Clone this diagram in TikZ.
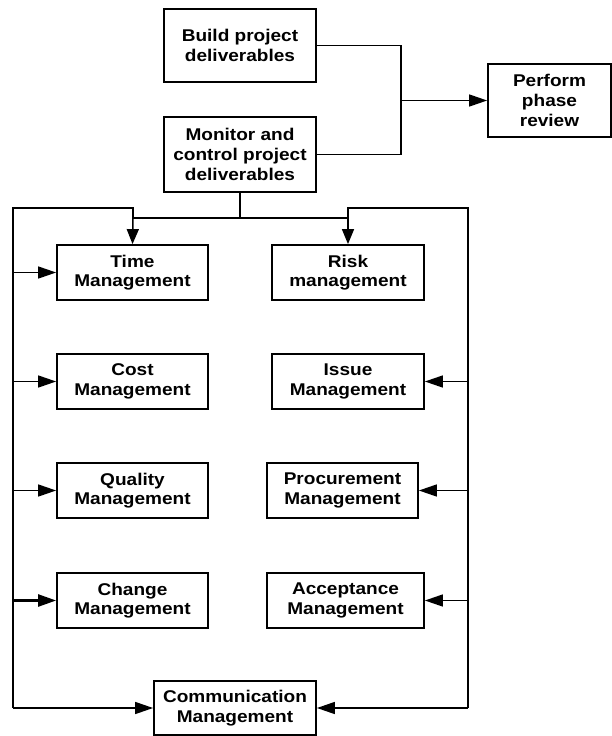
\documentclass[tikz,border=0pt]{standalone}
\usepackage{fontspec}
\setmainfont{Liberation Sans}[FakeStretch=1.12]
\usetikzlibrary{arrows.meta}
\begin{document}
\begin{tikzpicture}[x=1pt,y=-1pt,
  box/.style={draw, line width=1.8pt, inner sep=0pt, align=center,
    font=\fontsize{17}{19.7}\selectfont\bfseries},
  link/.style={line width=1.5pt},
  harr/.style={link, -{Triangle[length=18pt,width=12pt]}},
  varr/.style={link, -{Triangle[length=15pt,width=12pt]}}]
\useasboundingbox (0,0) rectangle (611,736);

% upper part
\node[box, minimum width=152pt, minimum height=73pt] (build) at (240,45.5) {Build project\\deliverables};
\node[box, minimum width=152pt, minimum height=75pt] (monitor) at (240,154.5) {Monitor and\\control project\\deliverables};
\node[box, minimum width=123pt, minimum height=73pt] (review) at (549.5,100.5) {Perform\\phase\\review};

% management areas
\node[box, minimum width=151pt, minimum height=55pt] (time) at (132.5,272.5) {Time\\Management};
\node[box, minimum width=152pt, minimum height=55pt] (risk) at (348,272.5) {Risk\\management};
\node[box, minimum width=151pt, minimum height=55pt] (cost) at (132.5,381.5) {Cost\\Management};
\node[box, minimum width=152pt, minimum height=55pt] (issue) at (348,381.5) {Issue\\Management};
\node[box, minimum width=151pt, minimum height=55pt] (quality) at (132.5,490.5) {Quality\\Management};
\node[box, minimum width=151pt, minimum height=55pt] (procure) at (342.5,490.5) {Procurement\\Management};
\node[box, minimum width=151pt, minimum height=55pt] (change) at (132.5,600.5) {Change\\Management};
\node[box, minimum width=157pt, minimum height=55pt] (accept) at (345.5,600.5) {Acceptance\\Management};
\node[box, minimum width=162pt, minimum height=54pt] (comm) at (235,708) {Communication\\Management};

% junction points
\coordinate (jr) at (401,100.5);
\coordinate (bus) at (240,218);
\coordinate (bl) at (133,218);
\coordinate (br) at (348,218);
\coordinate (lt) at (13,208);
\coordinate (rt) at (468,208);

% merge into the phase review
\draw[link] (build.east) -| (jr) |- (monitor.east);
\draw[harr] (jr) -- (review.west);

% distribution bus
\draw[link] (monitor.south) -- (bus);
\draw[link] (bl) -- (br);
\draw[varr] (bl) -- (time.north);
\draw[varr] (br) -- (risk.north);

% left feeder
\draw[link] (bl) |- (lt) -- (lt |- comm);
\draw[harr] (lt |- comm) -- (comm.west);
\draw[harr] (lt |- time) -- (time.west);
\draw[harr] (lt |- cost) -- (cost.west);
\draw[harr] (lt |- quality) -- (quality.west);
\draw[harr, line width=2.4pt] (lt |- change) -- (change.west);

% right feeder
\draw[link] (br) |- (rt) -- (rt |- comm);
\draw[harr] (rt |- comm) -- (comm.east);
\draw[harr] (rt |- issue) -- (issue.east);
\draw[harr] (rt |- procure) -- (procure.east);
\draw[harr] (rt |- accept) -- (accept.east);
\end{tikzpicture}
\end{document}
